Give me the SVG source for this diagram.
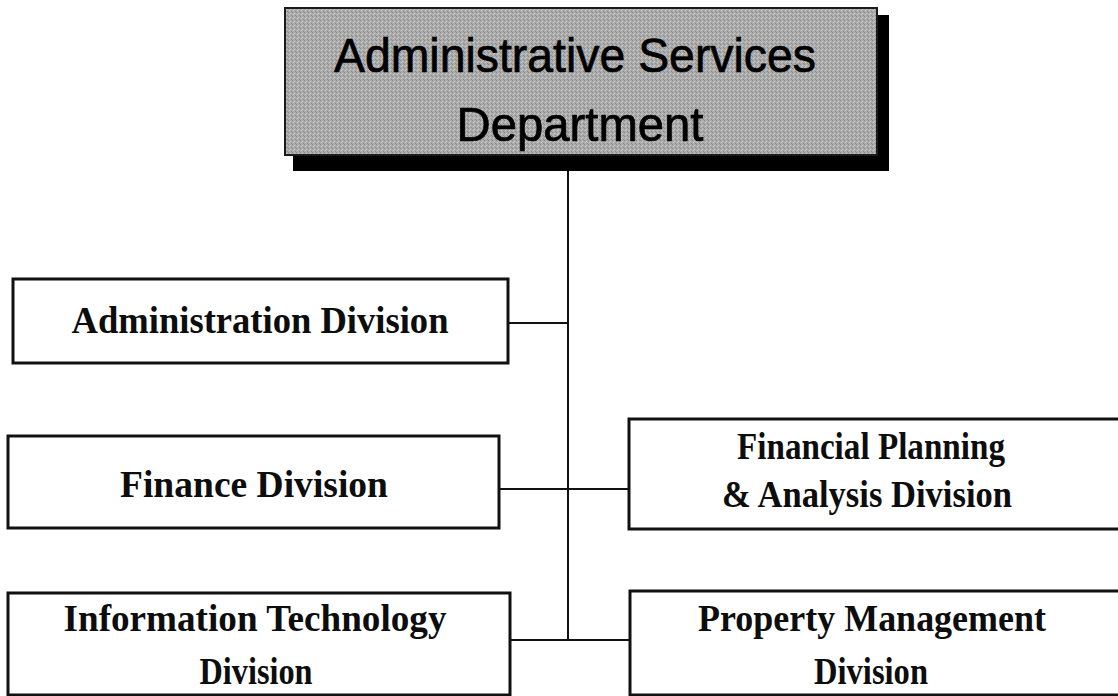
<svg xmlns="http://www.w3.org/2000/svg" width="1118" height="696" viewBox="0 0 1118 696">
  <style>
    .box { fill: #ffffff; stroke: #111111; stroke-width: 3; }
    .dept { stroke: #1a1a1a; stroke-width: 2; }
    .shadow { fill: #000000; }
    .wire { fill: none; stroke: #111111; stroke-width: 2; }
    .div { font-family: "Liberation Serif", "Times New Roman", serif; font-weight: bold; font-size: 38px; fill: #0d0d0d; text-anchor: middle; }
    .head { font-family: "Liberation Sans", Arial, sans-serif; font-size: 49px; fill: #000000; stroke: #000000; stroke-width: 0.7; text-anchor: middle; }
  </style>
  <defs>
    <!-- fine halftone grain for the department header -->
    <pattern id="grain" width="4" height="4" patternUnits="userSpaceOnUse">
      <rect width="4" height="4" fill="#ababab"/>
      <rect x="0" y="0" width="1" height="1" fill="#8a8a8a"/>
      <rect x="2" y="1" width="1" height="1" fill="#c8c8c8"/>
      <rect x="1" y="2" width="1" height="1" fill="#c8c8c8"/>
      <rect x="3" y="3" width="1" height="1" fill="#8a8a8a"/>
    </pattern>
  </defs>
  <rect width="1118" height="696" fill="#ffffff"/>

  <!-- connector lines -->
  <g id="connectors">
    <line class="wire" x1="568" y1="170" x2="568" y2="641"/>
    <line class="wire" x1="508" y1="323" x2="568" y2="323"/>
    <line class="wire" x1="499" y1="489" x2="629" y2="489"/>
    <line class="wire" x1="510" y1="640" x2="630" y2="640"/>
  </g>

  <!-- department header with drop shadow -->
  <g id="dept">
    <rect class="shadow" x="293" y="15" width="596" height="156"/>
    <rect class="dept" x="285" y="8" width="592" height="147" fill="url(#grain)"/>
    <text class="head" x="575" y="72" textLength="482" lengthAdjust="spacingAndGlyphs">Administrative Services</text>
    <text class="head" x="580" y="141" textLength="247" lengthAdjust="spacingAndGlyphs">Department</text>
  </g>

  <g id="admin">
    <rect class="box" x="13" y="279" width="495" height="84"/>
    <text class="div" x="260" y="333" textLength="377" lengthAdjust="spacingAndGlyphs">Administration Division</text>
  </g>

  <g id="finance">
    <rect class="box" x="8" y="436" width="491" height="92"/>
    <text class="div" x="254" y="497" textLength="268" lengthAdjust="spacingAndGlyphs">Finance Division</text>
  </g>

  <g id="fpa">
    <rect class="box" x="629" y="419" width="492" height="110"/>
    <text class="div" x="871" y="459" textLength="268" lengthAdjust="spacingAndGlyphs">Financial Planning</text>
    <text class="div" x="867" y="507" textLength="290" lengthAdjust="spacingAndGlyphs">&amp; Analysis Division</text>
  </g>

  <g id="it">
    <rect class="box" x="8" y="593" width="502" height="102"/>
    <text class="div" x="255" y="631" textLength="383" lengthAdjust="spacingAndGlyphs">Information Technology</text>
    <text class="div" x="256" y="684" textLength="113" lengthAdjust="spacingAndGlyphs">Division</text>
  </g>

  <g id="property">
    <rect class="box" x="630" y="591" width="491" height="104"/>
    <text class="div" x="872" y="631" textLength="348" lengthAdjust="spacingAndGlyphs">Property Management</text>
    <text class="div" x="871" y="684" textLength="114" lengthAdjust="spacingAndGlyphs">Division</text>
  </g>
</svg>
